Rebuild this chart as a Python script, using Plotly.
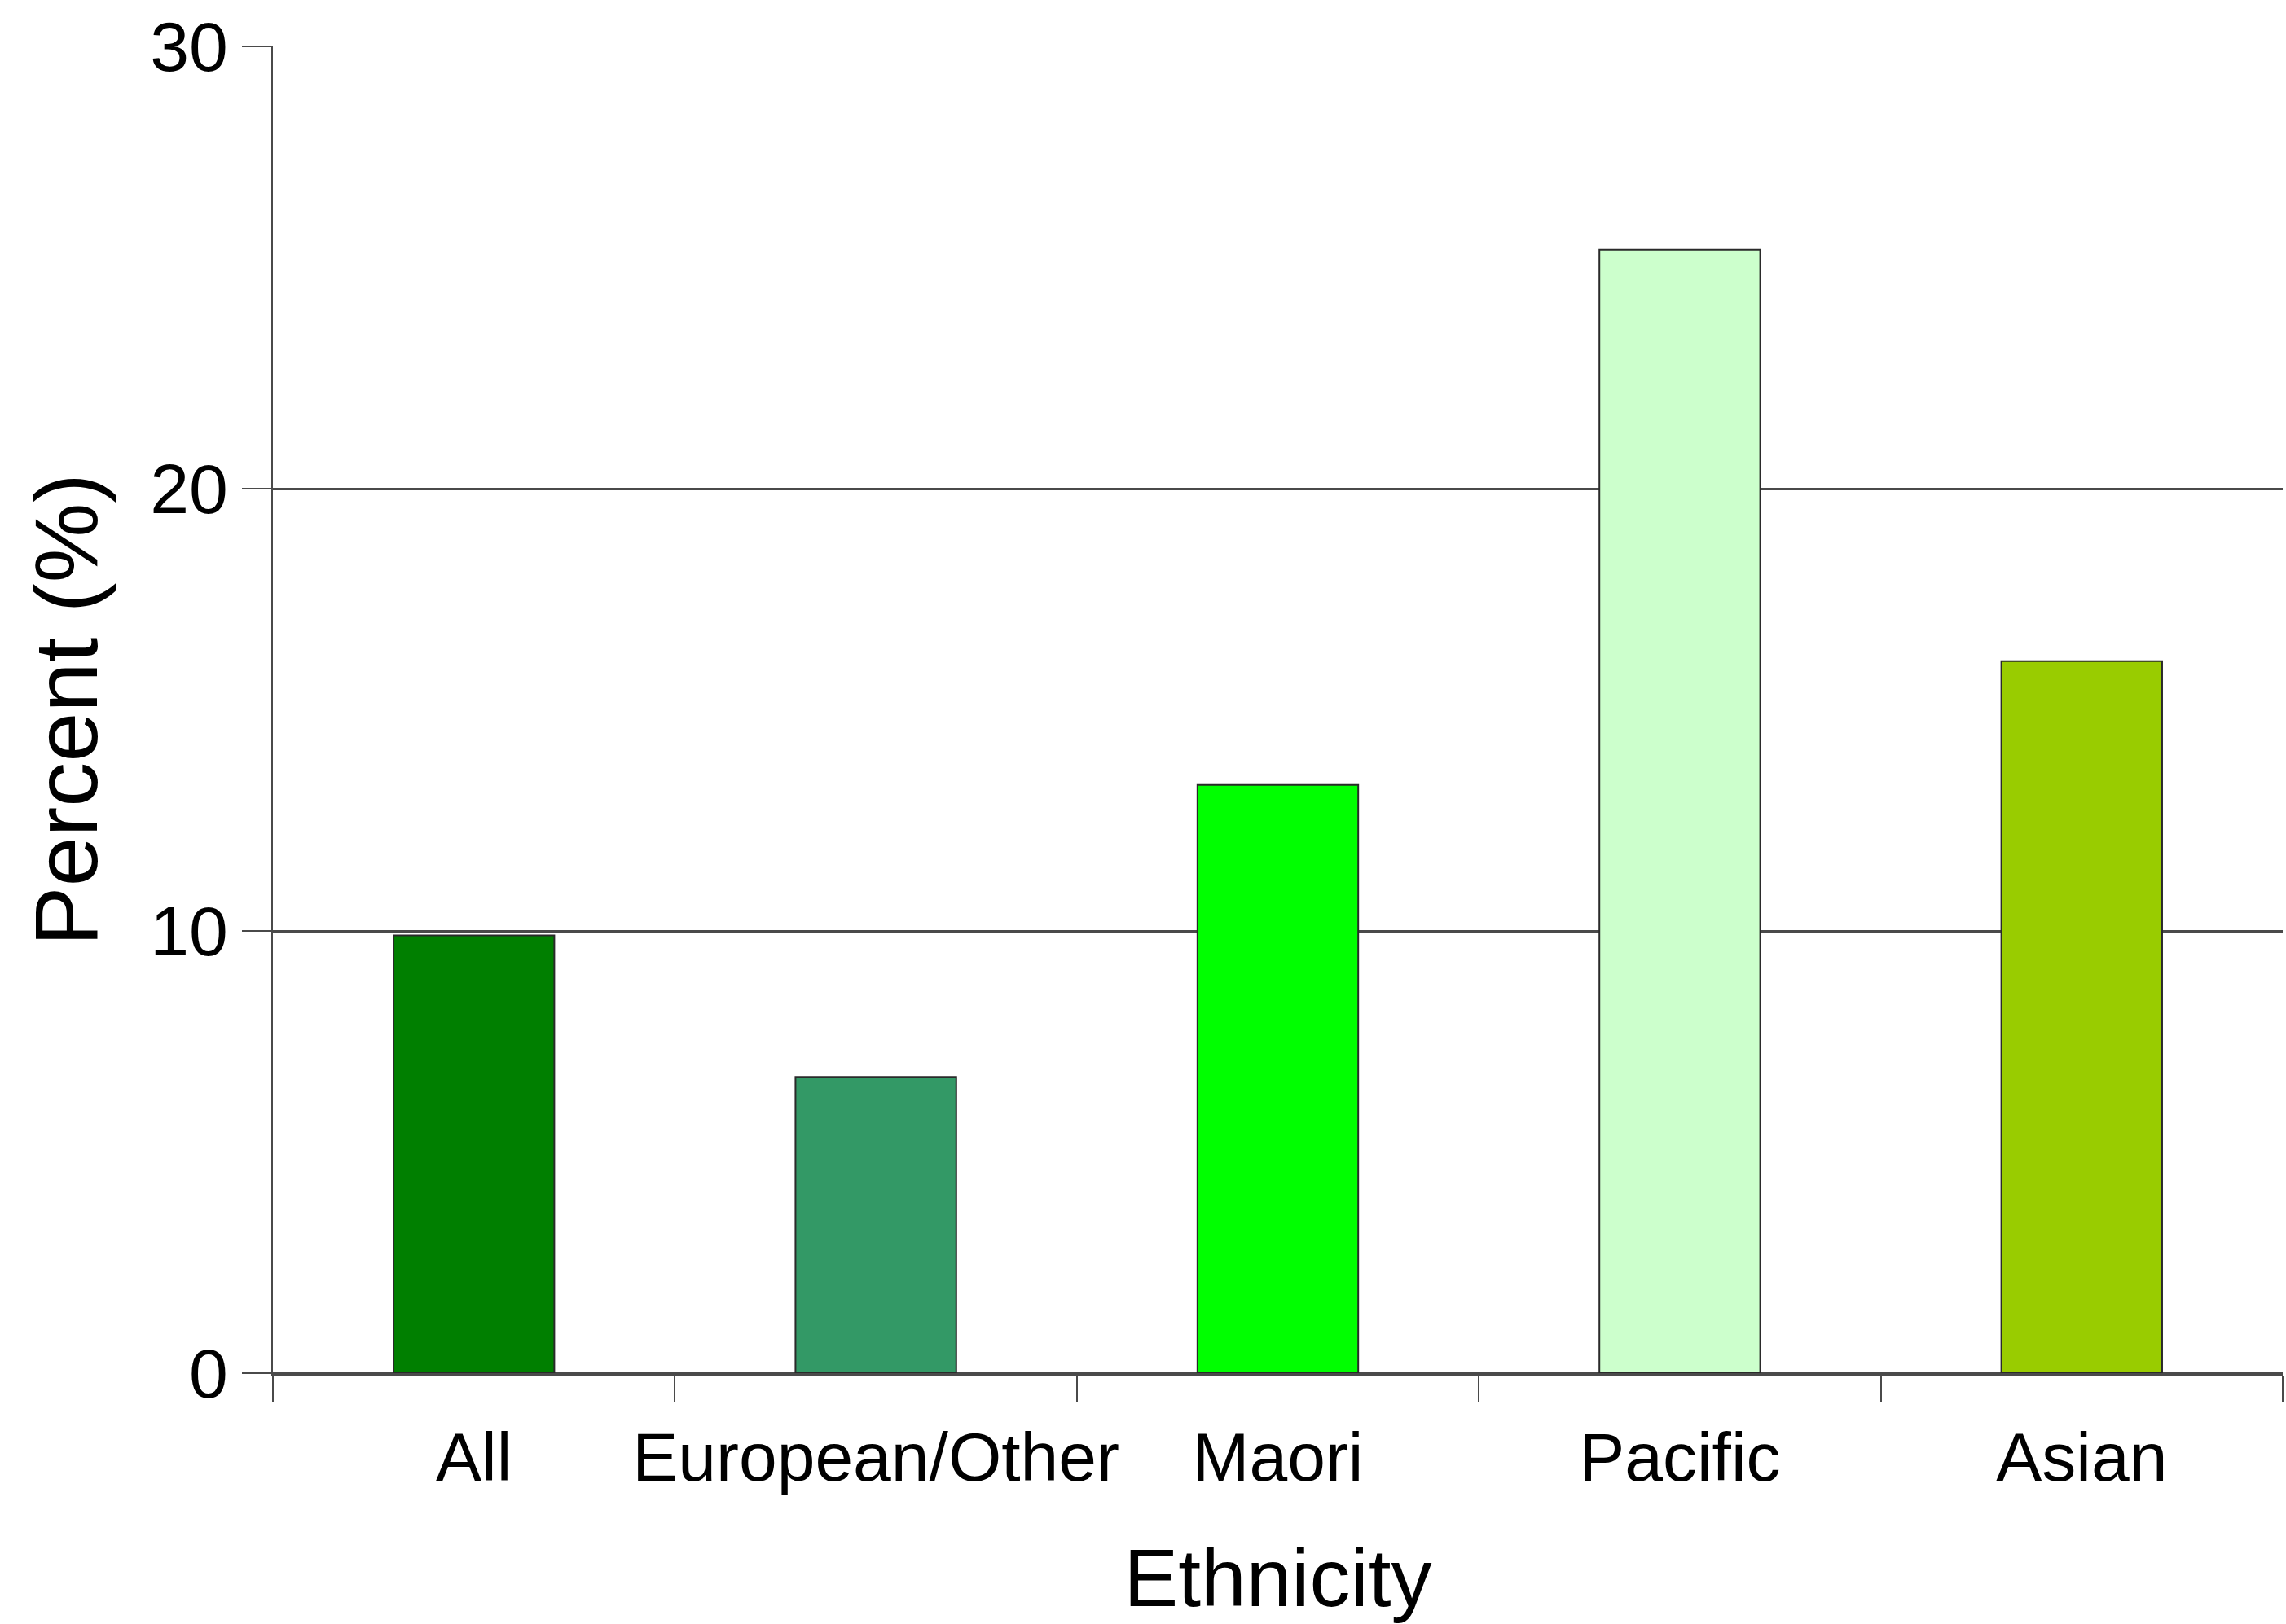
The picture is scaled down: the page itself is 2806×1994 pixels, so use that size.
import plotly.graph_objects as go

categories = ["All", "European/Other", "Maori", "Pacific", "Asian"]
values = [9.9, 6.7, 13.3, 25.4, 16.1]
bar_colors = ["#007F00", "#339966", "#00FF00", "#CCFFCC", "#99CC00"]
y_ticks = [0, 10, 20, 30]

FONT = "Liberation Sans, Arial, Helvetica, sans-serif"
LINE = "#4a4a4a"

fig = go.Figure()
fig.add_trace(go.Bar(
    x=categories,
    y=values,
    width=0.4,
    marker=dict(color=bar_colors, line=dict(color="#2a2a2a", width=2)),
    showlegend=False,
))

fig.update_layout(
    width=2806,
    height=1994,
    margin=dict(l=335, r=4, t=57, b=308),
    paper_bgcolor="white",
    plot_bgcolor="white",
    font=dict(family=FONT, color="black"),
    bargap=0.6,
)

fig.update_xaxes(
    type="category",
    range=[-0.5, 4.5],
    automargin=False,
    tickangle=0,
    showgrid=False,
    showline=True,
    linecolor=LINE,
    linewidth=3,
    ticks="outside",
    tickson="boundaries",
    ticklen=32,
    tickwidth=2,
    tickcolor=LINE,
    ticklabelstandoff=28,
    tickfont=dict(size=84, family=FONT, color="black"),
    title=dict(text="Ethnicity", font=dict(size=100, family=FONT, color="black"), standoff=68),
)

fig.update_yaxes(
    range=[0, 30],
    tickvals=y_ticks,
    automargin=False,
    showgrid=True,
    gridcolor=LINE,
    gridwidth=3,
    zeroline=True,
    zerolinecolor=LINE,
    zerolinewidth=3,
    showline=True,
    linecolor=LINE,
    linewidth=2,
    ticks="outside",
    ticklen=36,
    tickwidth=2,
    tickcolor=LINE,
    tickfont=dict(size=86, family=FONT, color="black"),
    title=dict(text="Percent (%)", font=dict(size=110, family=FONT, color="black"), standoff=28),
)

fig.write_html("out.html")
